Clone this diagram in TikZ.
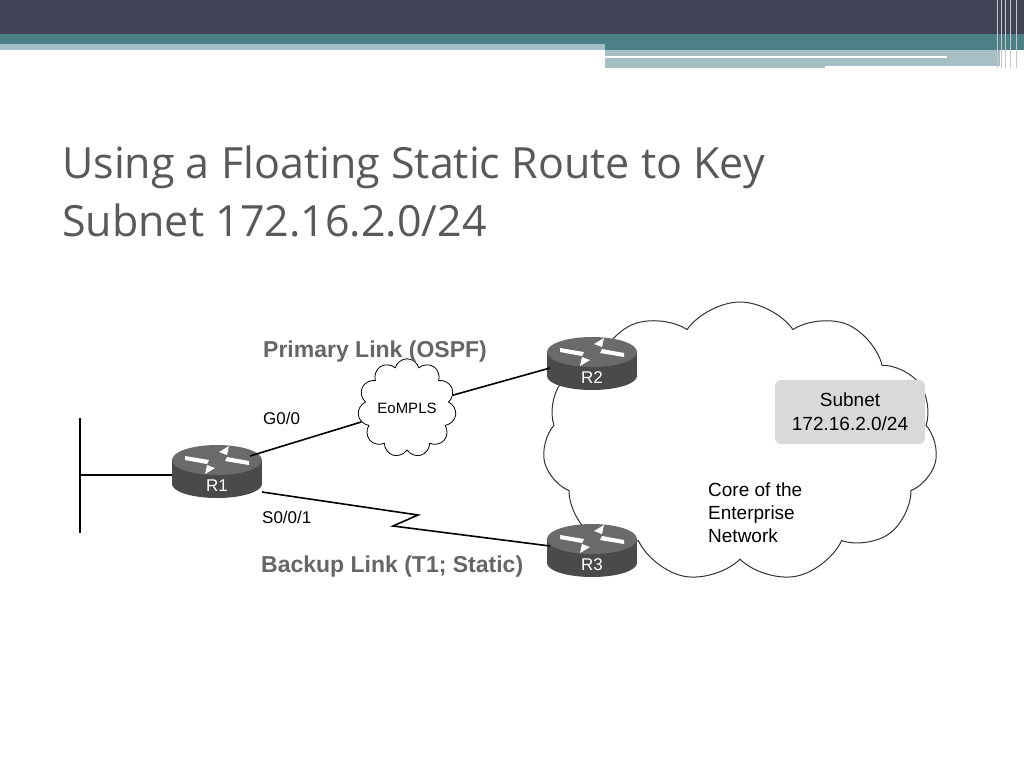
\documentclass[tikz,border=0pt]{standalone}
\usepackage{fontspec}
\setmainfont{Liberation Sans}
\newfontfamily\titlefont{Open Sans}
\usetikzlibrary{shapes.symbols,positioning}
\definecolor{bandDark}{HTML}{434358}
\definecolor{bandTeal}{HTML}{4A8086}
\definecolor{bandLight}{HTML}{A6BFC5}
\definecolor{routerTop}{HTML}{6A6A6A}
\definecolor{routerBody}{HTML}{4A4A4A}
\tikzset{
  linklabel/.style={font=\fontsize{17}{19}\selectfont,anchor=base west,inner sep=0pt},
  headlabel/.style={font=\bfseries\fontsize{23}{25}\selectfont,text=black!60,anchor=base west,inner sep=0pt},
  wire/.style={line width=1.6pt,black}
}
\newcommand\router[3]{% name, position, label
  \begin{scope}[shift={#2}]
    \fill[routerBody] (0,14) ellipse (45 and 14);
    \fill[routerBody] (-45,-10) rectangle (45,14);
    \fill[routerTop] (0,-10) ellipse (45 and 15);
    \fill[white] (-32,-14) -- (-8,-10) -- (-10,-6) -- (-32,-10) -- cycle;
    \fill[white] (32,-5) -- (8,-9) -- (10,-13) -- (32,-9) -- cycle;
    \fill[white] (2,-18) -- (12,-24) -- (10,-15) -- cycle;
    \fill[white] (-2,-2) -- (-12,4) -- (-10,-5) -- cycle;
    \node[text=white,font=\fontsize{17}{19}\selectfont] (#1) at (0,16) {#3};
  \end{scope}}
\begin{document}
\begin{tikzpicture}[x=1pt,y=-1pt]
  \useasboundingbox (0,0) rectangle (1024,768);
  \fill[white] (0,0) rectangle (1024,768);
  % header bands
  \fill[bandDark] (0,0) rectangle (1024,34);
  \fill[bandTeal] (0,34) rectangle (1024,50);
  \fill[bandLight] (0,44) rectangle (605,50);
  \fill[bandLight] (605,50) rectangle (1000,68);
  \fill[white] (605,56) rectangle (947,58);
  \fill[white] (825,66) rectangle (1000,68);
  \foreach \x in {997,1001,1005,1010,1016}
    \fill[white!70!bandDark] (\x,0) rectangle (\x+1.2,68);
  % title
  \node[anchor=base west,inner sep=0pt,text=black!65,font=\titlefont\fontsize{43}{52}\selectfont] (title) at (62,178) {Using a Floating Static Route to Key};
  \node[anchor=base west,inner sep=0pt,text=black!65,font=\titlefont\fontsize{43}{52}\selectfont] (title2) at (62,236) {Subnet 172.16.2.0/24};
  % core cloud
  \node[cloud,cloud puffs=11,cloud puff arc=110,aspect=1.4,draw=black!80,line width=1pt,fill=white,minimum width=395pt,minimum height=280pt] (core) at (740,442) {};
  \node[fill=black!15,rounded corners=6pt,minimum width=150pt,minimum height=64pt,align=center,font=\fontsize{19}{24}\selectfont] (subnet) at (850,412) {Subnet\\172.16.2.0/24};
  \node[anchor=north west,inner sep=0pt,align=left,font=\fontsize{19}{23}\selectfont] (coretext) at (708,483) {Core of the\\Enterprise\\Network};
  % LAN
  \coordinate (lanTop) at (80,418);
  \coordinate (lanBot) at (80,533);
  \coordinate (lanMid) at (80,475);
  \draw[wire] (lanTop) -- (lanBot);
  % routers
  \router{r1}{(217,470)}{R1}
  \router{r2}{(592,362)}{R2}
  \router{r3}{(592,549)}{R3}
  \draw[wire] (lanMid) -- (172,475);
  % links
  \node[cloud,cloud puffs=11,draw,fill=white,line width=0.8pt,minimum width=72pt,minimum height=42pt,inner sep=0pt,font=\fontsize{15}{17}\selectfont] (eompls) at (407,408) {EoMPLS};
  \draw[wire] (250,456) -- (eompls);
  \draw[wire] (eompls) -- (550,368);
  \draw[wire] (262,492) -- (418,515) -- (393,526) -- (550,546);
  % labels
  \node[headlabel] (primary) at (263,357) {Primary Link (OSPF)};
  \node[headlabel] (backup) at (261,572) {Backup Link (T1; Static)};
  \node[linklabel] (g00) at (263,424) {G0/0};
  \node[linklabel] (s001) at (262,523) {S0/0/1};
\end{tikzpicture}
\end{document}
